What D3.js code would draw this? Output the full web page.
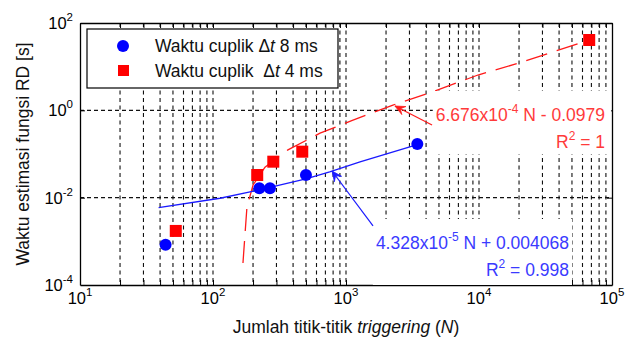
<!DOCTYPE html>
<html>
<head>
<meta charset="utf-8">
<script src="https://cdn.jsdelivr.net/npm/d3@7"></script>
<style>
  body { margin: 0; background: #fff; }
  svg { display: block; font-family: "Liberation Sans", Arial, sans-serif; }
  .pre { white-space: pre; }
</style>
</head>
<body>
<svg id="chart" width="638" height="338"></svg>
<script>
// data
var blueN = [44, 223, 268, 500, 3436];
var blueT = [0.00083, 0.0164, 0.0164, 0.033, 0.169];
var redN = [52.5, 215, 284, 469, 67400];
var redT = [0.00173, 0.033, 0.0667, 0.113, 40.8];

// trend lines as drawn in the picture
var blueFitN = [39, 113, 223, 500, 754, 1275, 3436];
var blueFitT = [0.0059, 0.0097, 0.0150, 0.027, 0.039, 0.066, 0.165];
var redFitN = [168, 180, 200, 246, 366, 638, 1104, 2254, 4508, 9820, 20000, 40000, 67400];
var redFitT = [0.00032, 0.0061, 0.0195, 0.050, 0.124, 0.30, 0.58, 1.32, 2.67, 6.44, 12.1, 24.2, 40.8];

var xExp = [1, 2, 3, 4, 5];
var yExp = [-4, -2, 0, 2];

// annotation arrows: [tailN, tailT, tipN, tipT]
var redArrow = [4436, 0.461, 2334, 1.257];
var blueArrow = [1596, 0.00225, 785, 0.0408];

var svg = d3.select("svg"),
  margin = { top: 23, right: 26, bottom: 53, left: 80 },
  width = +svg.attr("width") - margin.left - margin.right,
  height = +svg.attr("height") - margin.top - margin.bottom;

var x = d3.scaleLog().domain([10, 1e5]).range([0, width]),
  y = d3.scaleLog().domain([1e-4, 1e2]).range([height, 0]);

var g = svg.append("g")
  .attr("transform", "translate(" + margin.left + "," + margin.top + ")");

svg.append("defs").append("clipPath").attr("id", "clip")
  .append("rect").attr("width", width).attr("height", height);

// all x ticks (major + minor)
var xAll = [];
xExp.slice(0, 4).forEach(function (e) {
  for (var k = 1; k < 10; k++) xAll.push(k * Math.pow(10, e));
});
xAll.push(1e5);
var xGrid = xAll.filter(function (v) { return v > 10 && v < 1e5; });
var yGrid = [1e-2, 1];

// grid
g.append("g").selectAll("line.vg")
  .data(xGrid).enter().append("line")
  .attr("x1", function (d) { return x(d); })
  .attr("x2", function (d) { return x(d); })
  .attr("y1", 0).attr("y2", height)
  .attr("stroke", "#111").attr("stroke-width", 1.1)
  .attr("stroke-dasharray", "4,3.5");
g.append("g").selectAll("line.hg")
  .data(yGrid).enter().append("line")
  .attr("y1", function (d) { return y(d); })
  .attr("y2", function (d) { return y(d); })
  .attr("x1", 0).attr("x2", width)
  .attr("stroke", "#111").attr("stroke-width", 1.1)
  .attr("stroke-dasharray", "4,3");

// axes (ticks inside)
g.append("g").attr("transform", "translate(0," + height + ")")
  .call(d3.axisBottom(x).tickValues(xAll).tickSizeInner(-5).tickSizeOuter(0).tickFormat(""));
g.append("g")
  .call(d3.axisTop(x).tickValues(xAll).tickSizeInner(-5).tickSizeOuter(0).tickFormat(""));
g.append("g")
  .call(d3.axisLeft(y).tickValues(yGrid).tickSizeInner(-5).tickSizeOuter(0).tickFormat(""));
g.append("g").attr("transform", "translate(" + width + ",0)")
  .call(d3.axisRight(y).tickValues(yGrid).tickSizeInner(-5).tickSizeOuter(0).tickFormat(""));
g.selectAll(".domain").attr("stroke", "#000").attr("stroke-width", 1.3);
g.selectAll(".tick line").attr("stroke", "#000");

// tick labels with superscripts
var xl = g.append("g").selectAll("text")
  .data(xExp).enter().append("text")
  .attr("x", function (d) { return x(Math.pow(10, d)); })
  .attr("y", height + 19)
  .attr("text-anchor", "middle")
  .attr("font-size", 16.5);
xl.append("tspan").text("10");
xl.append("tspan").attr("dy", -8).attr("font-size", 11.5).text(function (d) { return d; });

var yl = g.append("g").selectAll("text")
  .data(yExp).enter().append("text")
  .attr("x", -7)
  .attr("y", function (d) { return y(Math.pow(10, d)) + 6; })
  .attr("text-anchor", "end")
  .attr("font-size", 16.5);
yl.append("tspan").text("10");
yl.append("tspan").attr("dy", -8).attr("font-size", 11.5).text(function (d) { return d; });

// axis titles
var xt = svg.append("text")
  .attr("x", margin.left + width / 2).attr("y", 333)
  .attr("text-anchor", "middle").attr("font-size", 17.5)
  .attr("fill", "#111");
xt.append("tspan").text("Jumlah titik-titik ");
xt.append("tspan").attr("font-style", "italic").text("triggering");
xt.append("tspan").text(" (");
xt.append("tspan").attr("font-style", "italic").text("N");
xt.append("tspan").text(")");

svg.append("text")
  .attr("transform", "translate(29," + (margin.top + height / 2) + ") rotate(-90)")
  .attr("text-anchor", "middle").attr("font-size", 17.5)
  .attr("fill", "#111")
  .text("Waktu estimasi fungsi RD [s]");

// plot content
var plot = g.append("g").attr("clip-path", "url(#clip)");

var line = d3.line()
  .x(function (d) { return x(d[0]); })
  .y(function (d) { return y(d[1]); });

plot.append("path")
  .datum(redFitN.map(function (n, i) { return [n, redFitT[i]]; }))
  .attr("d", line).attr("fill", "none")
  .attr("stroke", "#ff1a1a").attr("stroke-width", 1.3)
  .attr("stroke-dasharray", "22,10");

plot.append("path")
  .datum(blueFitN.map(function (n, i) { return [n, blueFitT[i]]; }))
  .attr("d", line).attr("fill", "none")
  .attr("stroke", "#1a1aff").attr("stroke-width", 1.3);

plot.selectAll("circle.b")
  .data(blueN).enter().append("circle")
  .attr("cx", function (d) { return x(d); })
  .attr("cy", function (d, i) { return y(blueT[i]); })
  .attr("r", 6).attr("fill", "#0000ff");

plot.selectAll("rect.r")
  .data(redN).enter().append("rect")
  .attr("x", function (d) { return x(d) - 6; })
  .attr("y", function (d, i) { return y(redT[i]) - 6; })
  .attr("width", 12).attr("height", 12).attr("fill", "#ff0000");

// annotation text boxes
function note(color, xr, y1, y2, parts, rsq, pad) {
  var a = plot.append("g");
  var box = a.append("rect").attr("fill", "#fff");
  var t1 = a.append("text").attr("x", xr).attr("y", y1)
    .attr("text-anchor", "end").attr("font-size", 17.5).attr("fill", color);
  t1.append("tspan").text(parts[0]);
  t1.append("tspan").attr("dy", -8).attr("font-size", 12).text(parts[1]);
  t1.append("tspan").attr("dy", 8).attr("class", "pre").text(parts[2]);
  var t2 = a.append("text").attr("x", xr).attr("y", y2)
    .attr("text-anchor", "end").attr("font-size", 17.5).attr("fill", color);
  t2.append("tspan").text("R");
  t2.append("tspan").attr("dy", -8).attr("font-size", 12).text("2");
  t2.append("tspan").attr("dy", 8).attr("class", "pre").text(rsq);
  var b = a.node().getBBox();
  box.attr("x", b.x - pad[0]).attr("y", b.y - pad[1])
    .attr("width", b.width + pad[0] + pad[2])
    .attr("height", b.height + pad[1] + pad[3]);
}
note("#ff3a3a", 525, 98, 125, ["6.676x10", "-4", " N - 0.0979"], " = 1", [3, 11, 6, 2]);
note("#3a3aff", 489, 226, 253, ["4.328x10", "-5", " N + 0.004068"], " = 0.998", [3, 11, 3, 8]);

// arrows
function arrow(a, color) {
  var x1 = x(a[0]), y1 = y(a[1]), x2 = x(a[2]), y2 = y(a[3]);
  plot.append("line").attr("x1", x1).attr("y1", y1).attr("x2", x2).attr("y2", y2)
    .attr("stroke", color).attr("stroke-width", 1.2);
  var ang = Math.atan2(y2 - y1, x2 - x1), L = 10, W = 4.5;
  var bx = x2 - L * Math.cos(ang), by = y2 - L * Math.sin(ang);
  var mx = x2 - 0.6 * L * Math.cos(ang), my = y2 - 0.6 * L * Math.sin(ang);
  var px = -Math.sin(ang), py = Math.cos(ang);
  plot.append("path")
    .attr("d", "M" + x2 + "," + y2 +
      "L" + (bx + W * px) + "," + (by + W * py) +
      "L" + mx + "," + my +
      "L" + (bx - W * px) + "," + (by - W * py) + "Z")
    .attr("fill", color).attr("stroke", color).attr("stroke-width", 0.8);
}
arrow(redArrow, "#ff1a1a");
arrow(blueArrow, "#1a1aff");

// legend
var lg = g.append("g").attr("transform", "translate(7,6)");
lg.append("rect").attr("width", 251).attr("height", 59)
  .attr("fill", "#fff").attr("stroke", "#000").attr("stroke-width", 1.2);
lg.append("circle").attr("cx", 36).attr("cy", 17).attr("r", 6).attr("fill", "#0000ff");
lg.append("rect").attr("x", 31).attr("y", 36).attr("width", 11).attr("height", 11).attr("fill", "#ff0000");
var l1 = lg.append("text").attr("x", 68).attr("y", 23).attr("font-size", 17.5).attr("fill", "#111").attr("class", "pre");
l1.append("tspan").text("Waktu cuplik \u0394");
l1.append("tspan").attr("font-style", "italic").text("t");
l1.append("tspan").text(" 8 ms");
var l2 = lg.append("text").attr("x", 68).attr("y", 48).attr("font-size", 17.5).attr("fill", "#111").attr("class", "pre");
l2.append("tspan").text("Waktu cuplik  \u0394");
l2.append("tspan").attr("font-style", "italic").text("t");
l2.append("tspan").text(" 4 ms");
</script>
</body>
</html>
